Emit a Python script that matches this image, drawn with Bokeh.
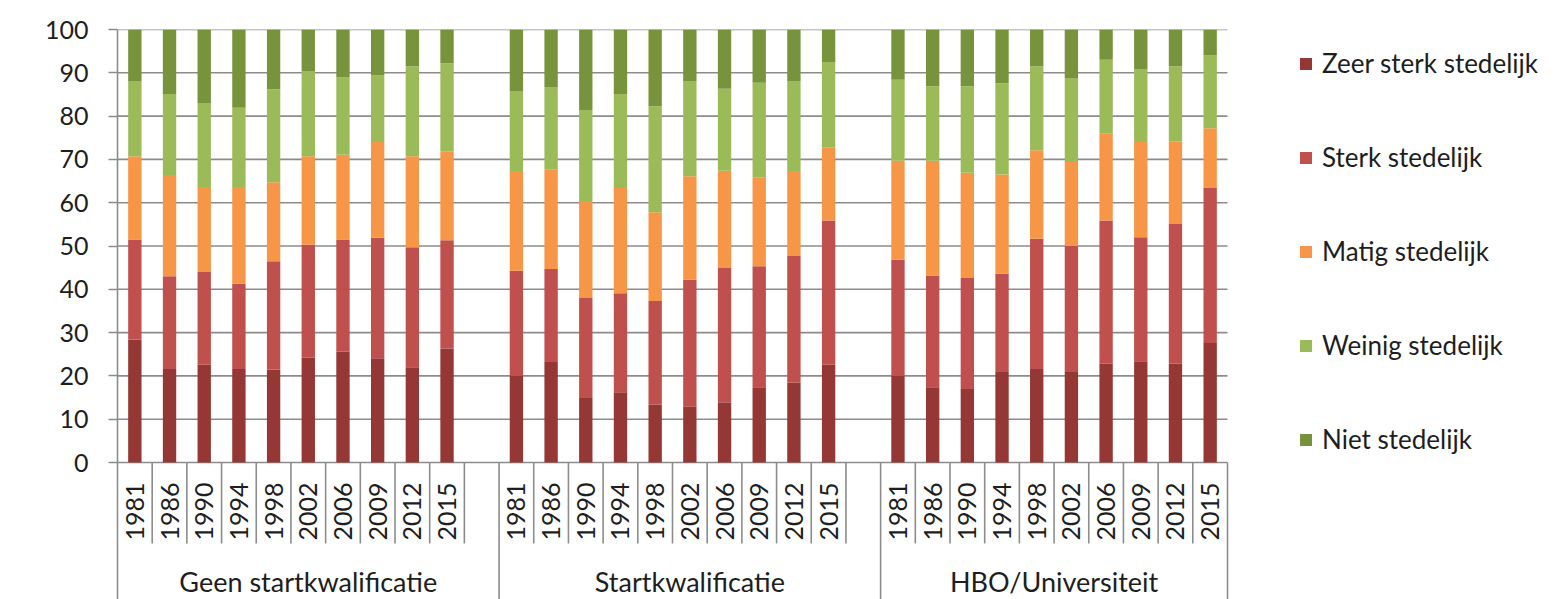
from bokeh.plotting import figure
from bokeh.models import ColumnDataSource, Range1d, FixedTicker, Legend, LegendItem
from bokeh.core.properties import value
from bokeh.embed import file_html
from bokeh.resources import INLINE
import math

# ---------------- data ----------------
years = ["1981", "1986", "1990", "1994", "1998", "2002", "2006", "2009", "2012", "2015"]
groups = ["Geen startkwalificatie", "Startkwalificatie", "HBO/Universiteit"]
series = ["Zeer sterk stedelijk", "Sterk stedelijk", "Matig stedelijk", "Weinig stedelijk", "Niet stedelijk"]

# Geen startkwalificatie
g1_zeer   = [28.4, 21.6, 22.6, 21.6, 21.5, 24.2, 25.6, 24.1, 22.0, 26.3]
g1_sterk  = [23.1, 21.4, 21.4, 19.7, 25.0, 26.1, 25.9, 27.8, 27.7, 25.0]
g1_matig  = [19.2, 23.4, 19.6, 22.3, 18.2, 20.4, 19.6, 22.1, 21.0, 20.6]
g1_weinig = [17.4, 18.7, 19.4, 18.3, 21.5, 19.7, 17.8, 15.4, 20.8, 20.3]
g1_niet   = [11.9, 14.9, 17.0, 18.1, 13.8, 9.6, 11.1, 10.6, 8.5, 7.8]

# Startkwalificatie
g2_zeer   = [20.1, 23.2, 14.9, 16.2, 13.4, 12.9, 13.9, 17.4, 18.4, 22.6]
g2_sterk  = [24.2, 21.5, 23.1, 22.9, 23.9, 29.3, 31.0, 27.9, 29.3, 33.3]
g2_matig  = [23.0, 22.9, 22.4, 24.3, 20.5, 23.9, 22.5, 20.6, 19.6, 16.9]
g2_weinig = [18.5, 19.1, 21.0, 21.7, 24.5, 22.0, 18.9, 21.8, 20.8, 19.7]
g2_niet   = [14.2, 13.3, 18.6, 14.9, 17.7, 11.9, 13.7, 12.3, 11.9, 7.5]

# HBO/Universiteit
g3_zeer   = [20.1, 17.4, 17.0, 20.9, 21.6, 20.9, 22.8, 23.4, 22.8, 27.6]
g3_sterk  = [26.7, 25.8, 25.6, 22.7, 30.1, 29.1, 33.1, 28.6, 32.3, 35.8]
g3_matig  = [22.9, 26.5, 24.3, 22.9, 20.4, 19.4, 20.0, 22.0, 19.1, 13.8]
g3_weinig = [18.7, 17.2, 20.0, 21.1, 19.4, 19.4, 17.1, 16.9, 17.3, 16.8]
g3_niet   = [11.6, 13.1, 13.1, 12.4, 8.5, 11.2, 7.0, 9.1, 8.5, 6.0]

y_ticks = [0, 10, 20, 30, 40, 50, 60, 70, 80, 90, 100]

# ---------------- layout / style ----------------
colors = ["#953735", "#C0504D", "#F79646", "#9BBB59", "#77933C"]
FONT = "Lato"
TXT = "#1e1e1e"
GRID = "#8c8c8c"

group_slots = [11, 11, 10]          # 10 years + a blank slot (last group has none)
offsets = [0, 11, 22]
n_slots = sum(group_slots)

slot_px = 1110 / n_slots
px_per_unit = 433 / 100.0
fig_w, fig_h = 1568, 599
left_border, top_border = 117, 29
frame_w = fig_w - left_border
frame_h = fig_h - top_border
x_end = frame_w / slot_px
y_start = 100 - frame_h / px_per_unit

src_cols = {"x": [], "zeer": [], "sterk": [], "matig": [], "weinig": [], "niet": []}
gdata = [
    (g1_zeer, g1_sterk, g1_matig, g1_weinig, g1_niet),
    (g2_zeer, g2_sterk, g2_matig, g2_weinig, g2_niet),
    (g3_zeer, g3_sterk, g3_matig, g3_weinig, g3_niet),
]
for gi, (z, s, m, w, n) in enumerate(gdata):
    for i in range(len(years)):
        src_cols["x"].append(offsets[gi] + i + 0.5)
        src_cols["zeer"].append(z[i])
        src_cols["sterk"].append(s[i])
        src_cols["matig"].append(m[i])
        src_cols["weinig"].append(w[i])
        src_cols["niet"].append(n[i])
source = ColumnDataSource(src_cols)

p = figure(width=fig_w, height=fig_h,
           x_range=Range1d(0, x_end), y_range=Range1d(y_start, 100),
           min_border_left=left_border, min_border_top=top_border,
           min_border_right=0, min_border_bottom=0,
           x_axis_location=None, toolbar_location=None,
           output_backend="svg")
p.outline_line_color = None
p.grid.visible = False
p.background_fill_color = "white"
p.border_fill_color = "white"

# gridlines (0..100) across the plot area only
p.segment(x0=[0] * len(y_ticks), x1=[n_slots] * len(y_ticks), y0=y_ticks, y1=y_ticks,
          line_color=GRID, line_width=1.6)

# stacked bars
stackers = ["zeer", "sterk", "matig", "weinig", "niet"]
rends = p.vbar_stack(stackers, x="x", width=0.385, color=colors, source=source, line_width=0)

# category-axis separators
short_x, long_x = [], []
for gi, ns in enumerate(group_slots):
    for k in range(1, ns):
        short_x.append(offsets[gi] + k)
    long_x.append(offsets[gi] + ns)
short_bottom = -18.7
p.segment(x0=short_x, x1=short_x, y0=[0] * len(short_x), y1=[short_bottom] * len(short_x),
          line_color=GRID, line_width=1.6)
p.segment(x0=long_x, x1=long_x, y0=[0] * len(long_x), y1=[y_start] * len(long_x),
          line_color=GRID, line_width=1.6)

# year tick labels (rotated)
p.text(x=src_cols["x"], y=[-11.3] * len(src_cols["x"]),
       text=years * len(groups), angle=math.pi / 2,
       text_align="center", text_baseline="middle",
       text_font=value(FONT), text_font_size="25px", text_color=TXT)

# group labels
gx = [offsets[gi] + group_slots[gi] / 2 for gi in range(len(groups))]
p.text(x=gx, y=[-27.5] * len(gx), text=groups,
       text_align="center", text_baseline="middle",
       text_font=value(FONT), text_font_size="27px", text_color=TXT)

# y axis
ax = p.yaxis[0]
ax.ticker = FixedTicker(ticks=y_ticks)
ax.axis_line_color = GRID
ax.axis_line_width = 1.6
ax.major_tick_line_color = GRID
ax.major_tick_line_width = 1.6
ax.major_tick_out = 9
ax.major_tick_in = 0
ax.minor_tick_line_color = None
ax.major_label_standoff = 20
ax.major_label_text_font = FONT
ax.major_label_text_font_size = "25px"
ax.major_label_text_color = TXT

# legend
items = [LegendItem(label=series[i], renderers=[rends[i]]) for i in range(len(series))]
legend = Legend(items=items, location=(1181, 142))
legend.padding = 0
legend.margin = 0
legend.glyph_width = 15
legend.glyph_height = 15
legend.label_height = 36
legend.spacing = 58
legend.label_standoff = 9
legend.label_text_font = FONT
legend.label_text_font_size = "26px"
legend.label_text_color = TXT
legend.border_line_alpha = 0
legend.background_fill_alpha = 0
p.add_layout(legend)

open("out.html", "w").write(file_html(p, INLINE))
